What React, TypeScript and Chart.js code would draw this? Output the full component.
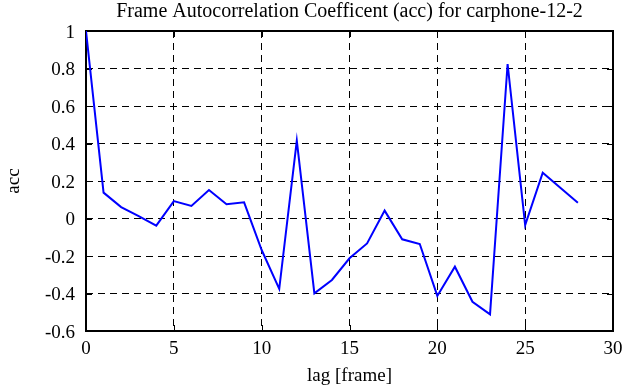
import React, { useEffect, useRef } from "react";
import { Chart, registerables } from "chart.js";

Chart.register(...registerables);

const lags = [0, 1, 2, 3, 4, 5, 6, 7, 8, 9, 10, 11, 12, 13, 14, 15, 16, 17, 18, 19, 20, 21, 22, 23, 24, 25, 26, 27, 28];
const accValues = [1.0, 0.138, 0.061, 0.013, -0.038, 0.093, 0.067, 0.152, 0.076, 0.086, -0.168, -0.375, 0.415, -0.399, -0.328, -0.212, -0.133, 0.042, -0.111, -0.136, -0.413, -0.257, -0.444, -0.511, 0.824, -0.035, 0.244, 0.164, 0.084];

const xTicks = [0, 5, 10, 15, 20, 25, 30];
const yTicks = [-0.6, -0.4, -0.2, 0, 0.2, 0.4, 0.6, 0.8, 1];

const titleText = "Frame Autocorrelation Coefficent (acc) for carphone-12-2";
const xLabel = "lag [frame]";
const yLabel = "acc";

const FONT = "'Liberation Serif', 'Times New Roman', serif";

const framePlugin = {
  id: "framePlugin",
  beforeDatasetsDraw(chart: any) {
    const { ctx, chartArea, scales } = chart;
    const { left, right, top, bottom } = chartArea;
    const tick = 6;
    ctx.save();
    ctx.strokeStyle = "#000";
    ctx.lineWidth = 1;
    ctx.setLineDash([]);
    ctx.beginPath();
    for (const v of xTicks) {
      const px = Math.round(scales.x.getPixelForValue(v)) + 0.5;
      ctx.moveTo(px, bottom);
      ctx.lineTo(px, bottom - tick);
      ctx.moveTo(px, top);
      ctx.lineTo(px, top + tick);
    }
    for (const v of yTicks) {
      const py = Math.round(scales.y.getPixelForValue(v)) + 0.5;
      ctx.moveTo(left, py);
      ctx.lineTo(left + tick, py);
      ctx.moveTo(right, py);
      ctx.lineTo(right - tick, py);
    }
    ctx.stroke();
    ctx.lineWidth = 2;
    ctx.strokeRect(left, top, right - left, bottom - top);
    ctx.restore();
  },
  afterDraw(chart: any) {
    const { ctx, chartArea } = chart;
    ctx.save();
    ctx.fillStyle = "#000";
    ctx.font = `20px ${FONT}`;
    ctx.textAlign = "center";
    ctx.textBaseline = "middle";
    ctx.fillText(titleText, (chartArea.left + chartArea.right) / 2, 12);
    ctx.restore();
  },
};

export default function App() {
  const canvasRef = useRef<HTMLCanvasElement | null>(null);

  useEffect(() => {
    document.body.style.margin = "0";
    const canvas = canvasRef.current;
    if (!canvas) return;
    const chart = new Chart(canvas, {
      type: "line",
      data: {
        datasets: [
          {
            label: yLabel,
            data: lags.map((x, i) => ({ x, y: accValues[i] })),
            borderColor: "#0000ff",
            backgroundColor: "#0000ff",
            borderWidth: 2,
            pointRadius: 0,
            tension: 0,
          },
        ],
      },
      options: {
        animation: false,
        responsive: false,
        maintainAspectRatio: false,
        layout: { padding: { left: 0, right: 28, top: 31, bottom: 0 } },
        plugins: {
          legend: { display: false },
          tooltip: { enabled: false },
          title: { display: false },
        },
        scales: {
          x: {
            type: "linear",
            min: 0,
            max: 30,
            afterBuildTicks: (scale: any) => {
              scale.ticks = xTicks.map((v) => ({ value: v }));
            },
            afterFit: (scale: any) => {
              scale.height = 56;
            },
            ticks: {
              color: "#000",
              font: { family: FONT, size: 19 },
              padding: 7,
              maxRotation: 0,
              callback: (v: any) => String(v),
            },
            grid: {
              color: "#000",
              lineWidth: 1,
              drawTicks: false,
            },
            border: { display: false, dash: [7, 5] },
            title: {
              display: true,
              text: xLabel,
              color: "#000",
              font: { family: FONT, size: 19 },
              padding: { top: 0, bottom: 0 },
            },
          },
          y: {
            type: "linear",
            min: -0.6,
            max: 1,
            afterBuildTicks: (scale: any) => {
              scale.ticks = yTicks.map((v) => ({ value: v }));
            },
            afterFit: (scale: any) => {
              scale.width = 86;
            },
            ticks: {
              color: "#000",
              font: { family: FONT, size: 19 },
              padding: 11,
              labelOffset: 2,
              callback: (v: any) => {
                const n = Math.round(Number(v) * 10) / 10;
                return n === 0 ? "0" : String(n);
              },
            },
            grid: {
              color: "#000",
              lineWidth: 1,
              drawTicks: false,
            },
            border: { display: false, dash: [7, 5] },
            title: {
              display: true,
              text: yLabel,
              color: "#000",
              font: { family: FONT, size: 19 },
              padding: { top: 3, bottom: 0 },
            },
          },
        },
      },
      plugins: [framePlugin],
    });
    return () => chart.destroy();
  }, []);

  return (
    <div style={{ width: 641, height: 387, background: "#fff" }}>
      <canvas ref={canvasRef} width={641} height={387} style={{ display: "block" }} />
    </div>
  );
}
